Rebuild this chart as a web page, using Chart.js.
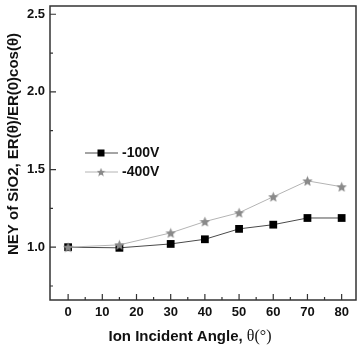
<!DOCTYPE html>
<html>
<head>
<meta charset="utf-8">
<script src="https://cdn.jsdelivr.net/npm/chart.js@4.4.0/dist/chart.umd.min.js"></script>
<style>
  html, body { margin: 0; padding: 0; background: #fff; overflow: hidden; }
  #wrap { width: 362px; height: 345px; position: relative; }
</style>
</head>
<body>
<div id="wrap"><canvas id="chart_area"></canvas></div>
<script>
// data
const angles = [0, 15, 30, 40, 50, 60, 70, 80];
const ney100 = [1.0, 0.996, 1.021, 1.051, 1.118, 1.145, 1.188, 1.188];
const ney400 = [1.0, 1.015, 1.092, 1.165, 1.222, 1.325, 1.427, 1.389];
const seriesNames = ['-100V', '-400V'];

// axis ticks
const xMajor = [0, 10, 20, 30, 40, 50, 60, 70, 80];
const xMinor = [5, 15, 25, 35, 45, 55, 65, 75];
const yMajor = [1.0, 1.5, 2.0, 2.5];
const yMinor = [0.75, 1.25, 1.75, 2.25];

const yTitle = 'NEY of SiO2, ER(\u03b8)/ER(0)cos(\u03b8)';
const xTitleMain = 'Ion Incident Angle, ';
const xTitleSym = '\u03b8(\u00b0)';

const sansBold = (size) => 'bold ' + size + 'px "Liberation Sans", Arial, sans-serif';
const serif = (size) => size + 'px "Liberation Serif", "Times New Roman", serif';

// filled five point star used as marker for -400V
function makeStar(size, color) {
  const c = document.createElement('canvas');
  c.width = size; c.height = size;
  const g = c.getContext('2d');
  const cx = size / 2, cy = size / 2 + 0.5;
  const R = size / 2, r = R * 0.45;
  g.beginPath();
  for (let i = 0; i < 10; i++) {
    const rad = i % 2 == 0 ? R : r;
    const a = -Math.PI / 2 + i * Math.PI / 5;
    const px = cx + rad * Math.cos(a), py = cy + rad * Math.sin(a);
    if (i == 0) g.moveTo(px, py); else g.lineTo(px, py);
  }
  g.closePath();
  g.fillStyle = color;
  g.fill();
  return c;
}
const starImg = makeStar(11, '#8a8a8a');

const framePlugin = {
  id: 'frame',
  afterDatasetsDraw(chart) {
    const ctx = chart.ctx;
    const a = chart.chartArea;
    const sx = chart.scales.x, sy = chart.scales.y;
    ctx.save();
    ctx.strokeStyle = '#333';
    ctx.lineWidth = 1.5;
    ctx.strokeRect(a.left, a.top, a.right - a.left, a.bottom - a.top);
    ctx.lineWidth = 1.2;
    ctx.beginPath();
    xMajor.forEach(v => { const p = sx.getPixelForValue(v); ctx.moveTo(p, a.bottom); ctx.lineTo(p, a.bottom - 6); });
    xMinor.forEach(v => { const p = sx.getPixelForValue(v); ctx.moveTo(p, a.bottom); ctx.lineTo(p, a.bottom - 3); });
    yMajor.forEach(v => { const p = sy.getPixelForValue(v); ctx.moveTo(a.left, p); ctx.lineTo(a.left + 6, p); });
    yMinor.forEach(v => { const p = sy.getPixelForValue(v); ctx.moveTo(a.left, p); ctx.lineTo(a.left + 3, p); });
    ctx.stroke();

    // tick labels
    ctx.fillStyle = '#111';
    ctx.font = sansBold(13);
    ctx.textBaseline = 'middle';
    ctx.textAlign = 'right';
    yMajor.forEach(v => ctx.fillText(v.toFixed(1), a.left - 5, sy.getPixelForValue(v)));
    ctx.textAlign = 'center';
    xMajor.forEach(v => ctx.fillText(String(v), sx.getPixelForValue(v), a.bottom + 12));

    // axis titles
    ctx.font = sansBold(15);
    ctx.save();
    ctx.translate(14, 144);
    ctx.rotate(-Math.PI / 2);
    ctx.textAlign = 'center';
    ctx.fillText(yTitle, 0, 0);
    ctx.restore();

    ctx.font = sansBold(15);
    const w1 = ctx.measureText(xTitleMain).width;
    ctx.font = serif(16);
    const w2 = ctx.measureText(xTitleSym).width;
    const x0 = 190 - (w1 + w2) / 2;
    ctx.textAlign = 'left';
    ctx.font = sansBold(15);
    ctx.fillText(xTitleMain, x0, 337);
    ctx.font = serif(16);
    ctx.fillText(xTitleSym, x0 + w1, 337);

    // legend
    ctx.font = sansBold(14);
    chart.data.datasets.forEach((ds, i) => {
      const ly = 153 + i * 19;
      ctx.strokeStyle = ds.borderColor;
      ctx.lineWidth = 1;
      ctx.beginPath();
      ctx.moveTo(85, ly); ctx.lineTo(118, ly);
      ctx.stroke();
      if (ds.pointStyle == 'rect') {
        ctx.fillStyle = ds.pointBackgroundColor;
        ctx.fillRect(101 - 3.5, ly - 3.5, 7, 7);
      } else {
        ctx.drawImage(ds.pointStyle, 101 - 4.5, ly - 4.5, 9, 9);
      }
      ctx.fillStyle = '#111';
      ctx.textAlign = 'left';
      ctx.fillText(ds.label, 122, ly);
    });
    ctx.restore();
  }
};

const ctx = document.getElementById('chart_area').getContext('2d');
const chart = new Chart(ctx, {
  type: 'line',
  data: {
    datasets: [
      {
        label: seriesNames[0],
        data: angles.map((a, i) => ({ x: a, y: ney100[i] })),
        borderColor: '#4a4a4a',
        borderWidth: 1,
        pointStyle: 'rect',
        pointRadius: 5.5,
        pointBackgroundColor: '#000',
        pointBorderColor: '#000',
        pointBorderWidth: 0,
        order: 1
      },
      {
        label: seriesNames[1],
        data: angles.map((a, i) => ({ x: a, y: ney400[i] })),
        borderColor: '#b4b4b4',
        borderWidth: 1,
        pointStyle: starImg,
        pointRadius: 5,
        order: 0
      }
    ]
  },
  options: {
    responsive: true,
    maintainAspectRatio: false,
    animation: false,
    layout: { padding: { top: 5, right: 4, left: 0, bottom: 0 } },
    plugins: {
      legend: { display: false },
      tooltip: { enabled: false }
    },
    scales: {
      x: {
        type: 'linear',
        min: -5.3,
        max: 84.2,
        afterFit: (s) => { s.height = 45; },
        grid: { display: false, drawTicks: false },
        border: { display: false },
        ticks: { display: false }
      },
      y: {
        min: 0.66,
        max: 2.553,
        afterFit: (s) => { s.width = 50; },
        grid: { display: false, drawTicks: false },
        border: { display: false },
        ticks: { display: false }
      }
    }
  },
  plugins: [framePlugin]
});
</script>
</body>
</html>
